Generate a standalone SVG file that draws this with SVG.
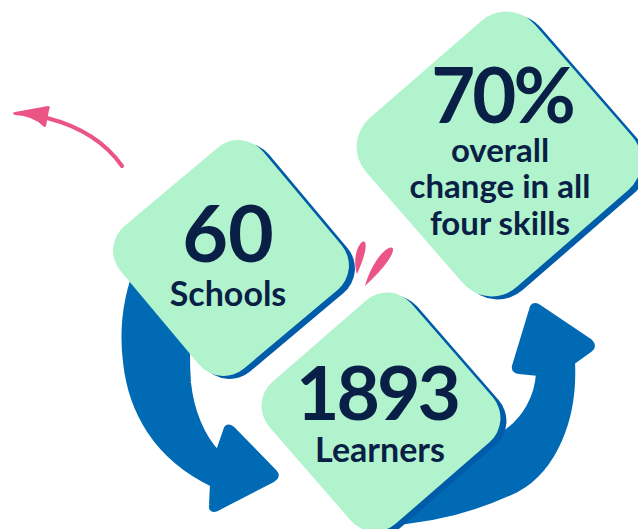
<svg xmlns="http://www.w3.org/2000/svg" width="638" height="529" viewBox="0 0 638 529">
<style>
.card{fill:#B0F3CD}
.shadow{fill:#005BA8}
.arrow{fill:#006AB5;stroke:#006AB5;stroke-width:6;stroke-linejoin:round}
.pink{fill:#EB5585}
.big{font-family:Lato,'Liberation Sans',sans-serif;font-weight:700;fill:#0A1F45;text-anchor:middle}
</style>
<rect width="638" height="529" fill="#FFFFFF"/>
<g id="connectors">
<path class="arrow" d="M140,262 C126,295 122,330 126,362 C131,410 156,457 213,484 L212,505 Q211,511 217,508 L273,479 Q278,476 274,472 L232,429 Q227,425 226,431 L218,454 C201,437 191,410 188,383 C186,355 187,320 194,290 Z"/>
<path class="arrow" d="M382,523 C420,521 470,512 517,489 C553,469 575,420 572,362 L590,349 Q594,346 590,342 L538,307 Q533,304 532,310 L515,366 Q514,371 519,371 L539,373 C538,395 527,420 500,437 C470,455 420,475 370,490 Z"/>
</g>
<g id="pink-arrow">
<path d="M122,166 C106,143 82,127 47,118" fill="none" stroke="#EB5585" stroke-width="4" stroke-linecap="round"/>
<path class="pink" d="M15,112 L48,106 Q51,106 49,110 L46,126 Q45,128 43,126 Q33,116 15,115 Q11,113 15,112 Z"/>
</g>
<g id="pink-marks">
<path class="pink" d="M357,274 C353,262 356,247 362,242 C368,239 367,252 357,274 Z"/>
<path class="pink" d="M365,286 C369,270 380,252 389,248 C397,245 395,258 365,286 Z"/>
</g>
<g id="node-schools">
<rect class="shadow" x="-93" y="-93" width="186" height="186" rx="32" transform="translate(237,261) rotate(-40)"/>
<rect class="card" x="-93" y="-93" width="186" height="186" rx="32" transform="translate(231,258) rotate(-40)"/>
<text class="big" x="228" y="262" font-size="79">60</text>
<text class="big" x="228" y="306" font-size="34">Schools</text>
</g>
<g id="node-learners">
<rect class="shadow" x="-94" y="-94" width="188" height="188" rx="32" transform="translate(387,415) rotate(-41)"/>
<rect class="card" x="-94" y="-94" width="188" height="188" rx="32" transform="translate(381,412) rotate(-41)"/>
<text class="big" x="377" y="420" font-size="75" letter-spacing="-3">1893</text>
<text class="big" x="380" y="462" font-size="34">Learners</text>
</g>
<g id="node-skills">
<rect class="shadow" x="-112" y="-112" width="224" height="224" rx="38" transform="translate(505,157) rotate(-41)"/>
<rect class="card" x="-112" y="-112" width="224" height="224" rx="38" transform="translate(499,154) rotate(-41)"/>
<text class="big" x="502" y="123" font-size="76" letter-spacing="-3">70%</text>
<text class="big" x="500" y="162" font-size="33">overall</text>
<text class="big" x="500" y="198" font-size="33">change in all</text>
<text class="big" x="500" y="235" font-size="33">four skills</text>
</g>
</svg>
